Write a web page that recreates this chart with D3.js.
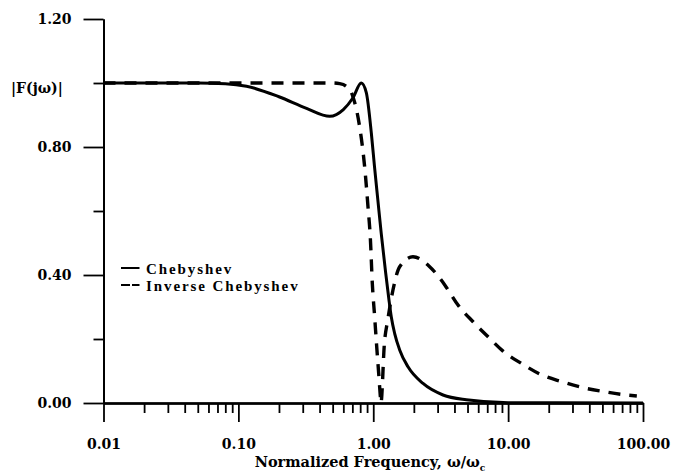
<!DOCTYPE html>
<html>
<head>
<meta charset="utf-8">
<script src="https://cdn.jsdelivr.net/npm/d3@7/dist/d3.min.js"></script>
<style>
  html, body { margin: 0; padding: 0; background: #fff; }
  svg { display: block; }
  .tick text { font-family: "DejaVu Serif", serif; font-weight: bold; font-size: 14px; fill: #000; }
  .lbl { font-family: "DejaVu Serif", serif; font-weight: bold; fill: #000; }
  .leg { font-family: "Liberation Serif", "Times New Roman", serif; font-weight: bold; font-size: 15px; letter-spacing: 1.9px; fill: #000; }
</style>
</head>
<body>
<svg id="chart" width="677" height="474"></svg>
<script>
// Normalized frequency (w/wc) samples and magnitudes for each response
const chebFreq = [0.01, 0.02, 0.05, 0.08, 0.115, 0.2, 0.32, 0.476, 0.6, 0.706, 0.815, 0.888, 0.968, 1.022, 1.082, 1.146, 1.235, 1.308, 1.361, 1.442, 1.57, 1.81, 2.34, 3.29, 4.9, 10, 100];
const chebMag  = [1.0, 1.0, 1.0, 0.998, 0.99, 0.957, 0.921, 0.896, 0.917, 0.953, 1.0, 0.97, 0.843, 0.738, 0.634, 0.53, 0.408, 0.322, 0.269, 0.217, 0.166, 0.113, 0.061, 0.025, 0.01, 0.001, 0.0];

const invFreq = [0.01, 0.1, 0.3, 0.5, 0.564, 0.63, 0.706, 0.792, 0.863, 0.914, 0.953, 0.984, 1.024, 1.065, 1.102, 1.129, 1.14, 1.21, 1.28, 1.40, 1.57, 1.97, 2.62, 3.39, 4.25, 5.49, 7.1, 9.12, 12.5, 17.3, 24.8, 35.9, 52.1, 75.5, 90];
const invMag  = [1.0, 1.0, 1.0, 1.0, 0.998, 0.99, 0.958, 0.864, 0.739, 0.614, 0.51, 0.374, 0.27, 0.166, 0.082, 0.02, 0.0, 0.187, 0.259, 0.353, 0.426, 0.457, 0.426, 0.369, 0.306, 0.254, 0.207, 0.163, 0.124, 0.09, 0.067, 0.048, 0.035, 0.025, 0.022];

// Axis ticks
const xMajor = [0.01, 0.1, 1, 10, 100];
const xMinor = [];
[0.01, 0.1, 1, 10].forEach(d => { for (let k = 2; k <= 9; k++) xMinor.push(d * k); });
const yMajor = [0, 0.4, 0.8, 1.2];
const yMinor = [0.2, 0.6, 1.0];

const seriesNames = ["Chebyshev", "Inverse Chebyshev"];

const svg = d3.select("#chart");

const x = d3.scaleLog().domain([0.01, 100]).range([103.5, 643]);
const y = d3.scaleLinear().domain([0, 1.2]).range([403, 19]);

// X axis: minor ticks first, then majors with labels
svg.append("g").attr("transform", `translate(0,${y(0)})`)
  .call(d3.axisBottom(x).tickValues(xMinor).tickSize(10).tickSizeOuter(0).tickFormat(""));
const gx = svg.append("g").attr("transform", `translate(0,${y(0)})`)
  .call(d3.axisBottom(x).tickValues(xMajor).tickSize(19).tickSizeOuter(0).tickPadding(17)
    .tickFormat(d3.format(".2f")));

// Y axis
svg.append("g").attr("transform", `translate(${x(0.01)},0)`)
  .call(d3.axisLeft(y).tickValues(yMinor).tickSize(10).tickSizeOuter(0).tickFormat(""));
const gy = svg.append("g").attr("transform", `translate(${x(0.01)},0)`)
  .call(d3.axisLeft(y).tickValues(yMajor).tickSize(20).tickSizeOuter(0).tickPadding(12)
    .tickFormat(d3.format(".2f")));

svg.selectAll(".domain").attr("stroke", "#000").attr("stroke-width", 2);
svg.selectAll(".tick line").attr("stroke", "#000").attr("stroke-width", 1.8);
gx.select(".domain").attr("stroke-width", 2.4);
gy.select(".domain").attr("stroke-width", 2);

// Curves
const line = d3.line()
  .x(d => x(d[0]))
  .y(d => y(d[1]))
  .curve(d3.curveMonotoneX);

const chebData = chebFreq.map((f, i) => [f, chebMag[i]]);
const invData = invFreq.map((f, i) => [f, invMag[i]]);

svg.append("path")
  .datum(invData)
  .attr("d", line)
  .attr("fill", "none")
  .attr("stroke", "#000")
  .attr("stroke-width", 3.4)
  .attr("stroke-dasharray", "12,9");

svg.append("path")
  .datum(chebData)
  .attr("d", line)
  .attr("fill", "none")
  .attr("stroke", "#000")
  .attr("stroke-width", 3);

// Axis titles
svg.append("text").attr("class", "lbl")
  .attr("x", 11).attr("y", 93)
  .attr("font-size", 14)
  .text("|F(jω)|");

const xt = svg.append("text").attr("class", "lbl")
  .attr("x", 370).attr("y", 467)
  .attr("text-anchor", "middle")
  .attr("font-size", 14.5);
xt.append("tspan").text("Normalized Frequency, ω/ω");
xt.append("tspan").attr("font-size", 9).attr("dy", 4).text("c");

// Legend
const leg = svg.append("g");
const legRows = [
  { name: seriesNames[0], dash: null, y: 268 },
  { name: seriesNames[1], dash: "9,2", y: 285 }
];
legRows.forEach(r => {
  leg.append("line")
    .attr("x1", 121).attr("x2", 139.5)
    .attr("y1", r.y).attr("y2", r.y)
    .attr("stroke", "#000").attr("stroke-width", 2)
    .attr("stroke-dasharray", r.dash);
  leg.append("text").attr("class", "leg")
    .attr("x", 146).attr("y", r.y + 6)
    .text(r.name);
});
</script>
</body>
</html>
